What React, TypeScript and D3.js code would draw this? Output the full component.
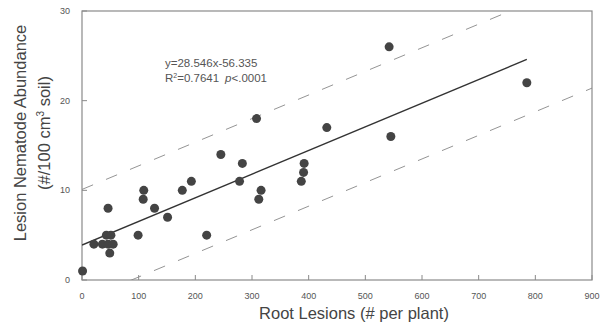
import * as d3 from 'd3';

// Root lesions (# per plant) vs lesion nematode abundance
const lesions = [1, 21, 36, 46, 55, 43, 51, 46, 49, 99, 109, 108, 128, 151, 177, 193, 220, 245, 278, 283, 308, 312, 316, 387, 391, 392, 432, 542, 545, 785];
const abundance = [1, 4, 4, 4, 4, 5, 5, 8, 3, 5, 10, 9, 8, 7, 10, 11, 5, 14, 11, 13, 18, 9, 10, 11, 12, 13, 17, 26, 16, 22];

// regression line and prediction bands
const fitX = [0, 785];
const fitY = [3.9, 24.6];
const bandX = [0, 900];
const upperY = [10.1, 33.8];
const lowerY = [-2.3, 21.4];

const xTicks = [0, 100, 200, 300, 400, 500, 600, 700, 800, 900];
const yTicks = [0, 10, 20, 30];

const W = 602;
const H = 335;
const margin = { left: 82, right: 10, top: 11, bottom: 55 };

export default function App() {
  const x = d3.scaleLinear().domain([0, 900]).range([margin.left, W - margin.right]);
  const y = d3.scaleLinear().domain([0, 30]).range([H - margin.bottom, margin.top]);
  const line = d3.line<[number, number]>().x(d => x(d[0])).y(d => y(d[1]));

  const pts = lesions.map((l, i) => ({ l, a: abundance[i] }));
  const x0 = x.range()[0], x1 = x.range()[1];
  const y0 = y.range()[0], y1 = y.range()[1];
  const font = '"Liberation Sans", Arial, sans-serif';

  return (
    <svg width={W} height={H} style={{ position: 'absolute', left: 0, top: 0, background: '#fff' }} fontFamily={font}>
      <defs>
        <clipPath id="plot">
          <rect x={x0} y={y1} width={x1 - x0} height={y0 - y1} />
        </clipPath>
      </defs>

      {/* frame */}
      <rect x={x0} y={y1} width={x1 - x0} height={y0 - y1} fill="none" stroke="#8a8a8a" strokeWidth={1.2} />

      {/* ticks */}
      {xTicks.map(t => (
        <g key={'x' + t}>
          <line x1={x(t)} x2={x(t)} y1={y0} y2={y0 - 5} stroke="#8a8a8a" />
          <text x={x(t)} y={y0 + 19} fontSize={9} fill="#555" textAnchor="middle">{t}</text>
        </g>
      ))}
      {yTicks.map(t => (
        <g key={'y' + t}>
          <line x1={x0} x2={x0 + 5} y1={y(t)} y2={y(t)} stroke="#8a8a8a" />
          <text x={70} y={y(t) + 3} fontSize={9} fill="#555" textAnchor="end">{t}</text>
        </g>
      ))}

      {/* bands + fit */}
      <g clipPath="url(#plot)">
        <path d={line(bandX.map((v, i) => [v, upperY[i]]) as [number, number][]) || ''} fill="none" stroke="#888" strokeWidth={0.9} strokeDasharray="12,14" />
        <path d={line(bandX.map((v, i) => [v, lowerY[i]]) as [number, number][]) || ''} fill="none" stroke="#888" strokeWidth={0.9} strokeDasharray="12,14" />
        <path d={line(fitX.map((v, i) => [v, fitY[i]]) as [number, number][]) || ''} fill="none" stroke="#333" strokeWidth={1.4} />
      </g>

      {/* points */}
      {pts.map((p, i) => (
        <circle key={i} cx={x(p.l)} cy={y(p.a)} r={4.5} fill="#444" />
      ))}

      {/* annotation */}
      <text x={165} y={67} fontSize={11.5} fill="#555">y=28.546x-56.335</text>
      <text x={165} y={82} fontSize={11.5} fill="#555">
        R<tspan fontSize={7} dy={-4}>2</tspan><tspan dy={4}>=0.7641</tspan>
        <tspan dx={6} fontStyle="italic">p</tspan>&lt;.0001
      </text>

      {/* axis titles */}
      <text x={(x0 + x1) / 2 + 17} y={319} fontSize={16.5} fill="#444" textAnchor="middle">Root Lesions (# per plant)</text>
      <g transform="translate(26,133) rotate(-90)">
        <text x={0} y={0} fontSize={16.5} fill="#444" textAnchor="middle">Lesion Nematode Abundance</text>
        <text x={0} y={24} fontSize={16.5} fill="#444" textAnchor="middle">
          (#/100 cm<tspan fontSize={10} dy={-6}>3</tspan><tspan dy={6}> soil)</tspan>
        </text>
      </g>
    </svg>
  );
}
